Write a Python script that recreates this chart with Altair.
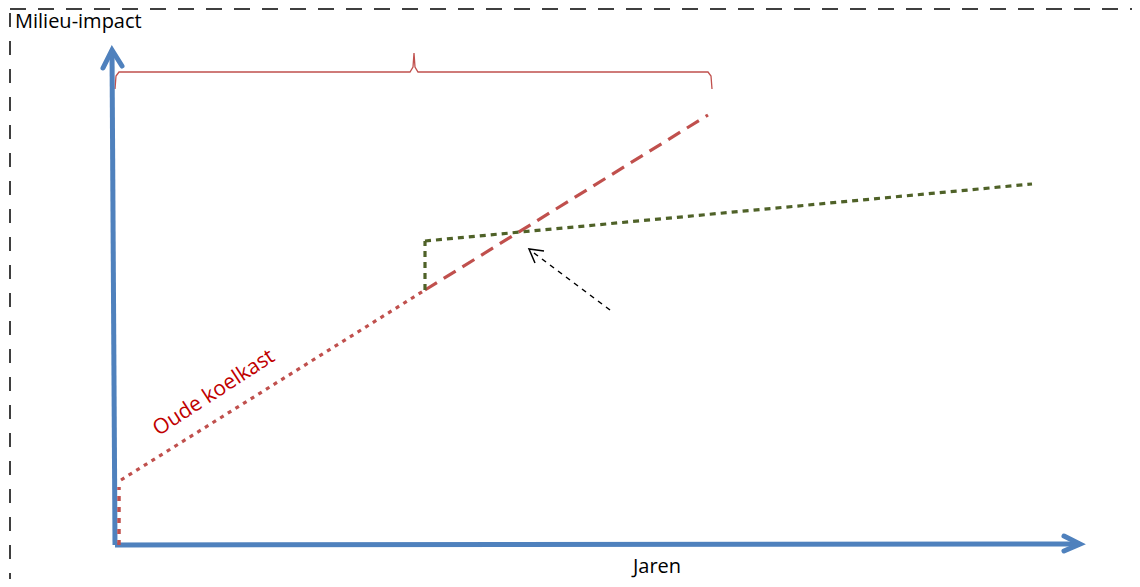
import altair as alt
import pandas as pd

# ---- data (diagram units: years on x, impact on y; origin at axis corner) ----
oude_vert_x = [1, 1]
oude_vert_y = [0, 58]
oude_oud_x = [3, 307]
oude_oud_y = [65, 255]
oude_verder_x = [307, 590]
oude_verder_y = [255, 430]
nieuw_vert_x = [307, 307]
nieuw_vert_y = [255, 304]
nieuw_x = [307, 914]
nieuw_y = [304, 361]

yas_x = [-3, -6]
yas_y = [0, 495]
yas_head_x = [-15, -6, 4]
yas_head_y = [477, 495, 479]
xas_x = [-3, 962]
xas_y = [0, 1]
xas_head_x = [946, 962, 946]
xas_head_y = [9, 1, -6]

pijl_x = [492, 412]
pijl_y = [235, 295]
pijl_head_x = [426, 411, 417]
pijl_head_y = [294, 296, 282]

accolade_x = [-3, -2, 1, 292, 295, 296, 297, 300, 590, 593, 594]
accolade_y = [456, 469, 473, 473, 478, 492, 478, 473, 473, 469, 456]

rand_boven_x = [-108, 1022]
rand_boven_y = [536, 536]
rand_links_x = [-108, -108]
rand_links_y = [532, -34]

XDOM = [-110, 1014]
YDOM = [-34, 537]
W, H = 1124, 571

xs = alt.Scale(domain=XDOM, nice=False, zero=False)
ys = alt.Scale(domain=YDOM, nice=False, zero=False)


def line(xv, yv, color, width, dash=None, cap="butt"):
    df = pd.DataFrame({"x": xv, "y": yv, "o": list(range(len(xv)))})
    kw = dict(color=color, strokeWidth=width, strokeCap=cap, clip=False)
    if dash:
        kw["strokeDash"] = dash
    return alt.Chart(df).mark_line(**kw).encode(
        x=alt.X("x:Q", scale=xs, axis=None),
        y=alt.Y("y:Q", scale=ys, axis=None),
        order="o:Q",
    )


def text(label, xv, yv, color, size, angle=0, align="left", baseline="alphabetic"):
    df = pd.DataFrame({"x": [xv], "y": [yv], "t": [label]})
    return alt.Chart(df).mark_text(
        color=color, fontSize=size, font="Open Sans", angle=angle,
        align=align, baseline=baseline, clip=False
    ).encode(
        x=alt.X("x:Q", scale=xs, axis=None),
        y=alt.Y("y:Q", scale=ys, axis=None),
        text="t:N",
    )


BLUE = "#4F81BD"
RED = "#C0504D"
GREEN = "#4F6228"

layers = [
    line(rand_boven_x, rand_boven_y, "#000000", 1.5, [16, 12]),
    line(rand_links_x, rand_links_y, "#000000", 1.5, [14, 14]),
    line(accolade_x, accolade_y, RED, 1.3),
    line(yas_x, yas_y, BLUE, 5),
    line(yas_head_x, yas_head_y, BLUE, 5, cap="round"),
    line(xas_x, xas_y, BLUE, 5),
    line(xas_head_x, xas_head_y, BLUE, 5, cap="round"),
    line(oude_vert_x, oude_vert_y, RED, 3.5, [5, 6]),
    line(oude_oud_x, oude_oud_y, RED, 3.2, [4, 5]),
    line(oude_verder_x, oude_verder_y, RED, 3.2, [14, 8]),
    line(nieuw_vert_x, nieuw_vert_y, GREEN, 3.2, [6, 5]),
    line(nieuw_x, nieuw_y, GREEN, 3.2, [6, 5]),
    line(pijl_x, pijl_y, "#000000", 1.5, [5, 5]),
    line(pijl_head_x, pijl_head_y, "#000000", 1.5),
    text("Milieu-impact", -103, 517, "#000000", 20),
    text("Jaren", 539, -22, "#000000", 20, align="center", baseline="middle"),
    text("Oude koelkast", 96, 152, "#C00000", 21, angle=327, align="center", baseline="middle"),
]

chart = alt.layer(*layers).properties(
    width=W, height=H, padding=0, autosize=alt.AutoSizeParams(type="none")
).configure_view(stroke=None)

chart.save("out.html", embed_options={"renderer": "svg", "actions": False})
